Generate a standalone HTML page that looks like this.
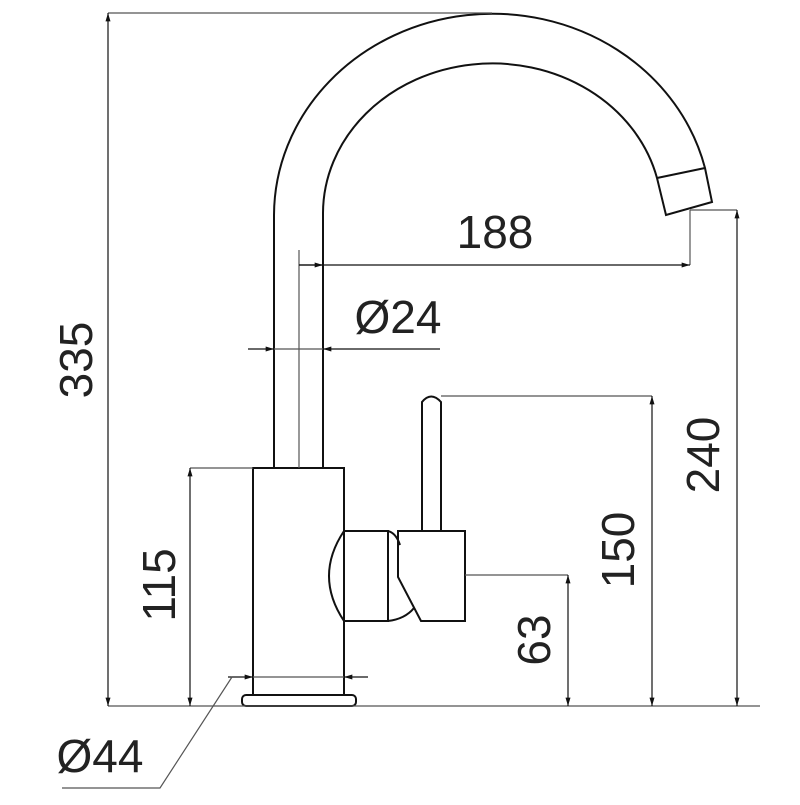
<!DOCTYPE html>
<html><head><style>html,body{margin:0;padding:0;background:#fff}</style></head>
<body>
<svg width="800" height="800" viewBox="0 0 800 800" xmlns="http://www.w3.org/2000/svg">
<defs>
<marker id="a" viewBox="0 0 10 6" refX="10" refY="3" markerWidth="12" markerHeight="5" markerUnits="userSpaceOnUse" orient="auto-start-reverse"><path d="M0,0 L10,3 L0,6Z" fill="#111"/></marker>
</defs>
<g fill="none" stroke="#111" stroke-width="2">
<!-- spout -->
<path d="M274,468 L274,215 A218.6,202 0 0 1 705,168 L712,202 L666,215 L657,178 A169.4,150 0 0 0 323,213 L323,468"/>
<line x1="657" y1="178" x2="705" y2="168"/>
<!-- body -->
<rect x="253" y="468" width="91" height="227"/>
<rect x="242" y="695" width="114" height="11" rx="4"/>
<!-- lever -->
<path d="M344,531 L388,531 L388,621 L344,621 Q314,576 344,531Z"/>
<path d="M388,531 Q396,533 400,545 M388,621 Q405,619 414,608"/>
<path d="M398,531 L465,531 L465,621 L421,621 L398,577 Z"/>
<path d="M422,531 L422,402 Q431,391 441,402 L441,531"/>
</g>
<g fill="none" stroke="#555" stroke-width="1.2">
<line x1="299" y1="250" x2="299" y2="468"/>
<!-- 335 -->
<line x1="108" y1="13" x2="492" y2="13"/>
<line x1="108" y1="706" x2="760" y2="706"/>
<line x1="108" y1="706" x2="108" y2="13" marker-end="url(#a)" marker-start="url(#a)" stroke="#111"/>
<!-- 115 -->
<line x1="190" y1="468" x2="253" y2="468"/>
<line x1="190" y1="468" x2="190" y2="706" marker-end="url(#a)" marker-start="url(#a)" stroke="#111"/>
<!-- 240 -->
<line x1="690" y1="210" x2="737" y2="210"/>
<line x1="737" y1="210" x2="737" y2="706" marker-end="url(#a)" marker-start="url(#a)" stroke="#111"/>
<!-- 150 -->
<line x1="441" y1="396" x2="652" y2="396"/>
<line x1="652" y1="396" x2="652" y2="706" marker-end="url(#a)" marker-start="url(#a)" stroke="#111"/>
<!-- 63 -->
<line x1="465" y1="575" x2="568" y2="575"/>
<line x1="568" y1="575" x2="568" y2="706" marker-end="url(#a)" marker-start="url(#a)" stroke="#111"/>
<!-- 188 -->
<line x1="690" y1="210" x2="690" y2="265"/>
<line x1="299" y1="265" x2="690" y2="265" marker-end="url(#a)" stroke="#111"/>
<line x1="299" y1="265" x2="323" y2="265" marker-end="url(#a)" stroke="#111"/>
<!-- Ø24 -->
<line x1="248" y1="349" x2="274" y2="349" marker-end="url(#a)" stroke="#111"/>
<line x1="440" y1="349" x2="323" y2="349" marker-end="url(#a)" stroke="#111"/>
<line x1="274" y1="349" x2="323" y2="349"/>
<!-- Ø44 -->
<line x1="228" y1="677" x2="253" y2="677" marker-end="url(#a)" stroke="#111"/>
<line x1="368" y1="677" x2="344" y2="677" marker-end="url(#a)" stroke="#111"/>
<line x1="253" y1="677" x2="344" y2="677"/>
<polyline points="232,677 160,788 62,788"/>
</g>
<g font-family="Liberation Sans, sans-serif" font-size="46" fill="#222">
<text x="495" y="248" text-anchor="middle">188</text>
<text x="398" y="333" text-anchor="middle">Ø24</text>
<text x="100" y="772" text-anchor="middle">Ø44</text>
<text transform="translate(92,360) rotate(-90)" text-anchor="middle">335</text>
<text transform="translate(175,585) rotate(-90)" text-anchor="middle">115</text>
<text transform="translate(719,455) rotate(-90)" text-anchor="middle">240</text>
<text transform="translate(634,550) rotate(-90)" text-anchor="middle">150</text>
<text transform="translate(550,640) rotate(-90)" text-anchor="middle">63</text>
</g>
</svg>
</body></html>
